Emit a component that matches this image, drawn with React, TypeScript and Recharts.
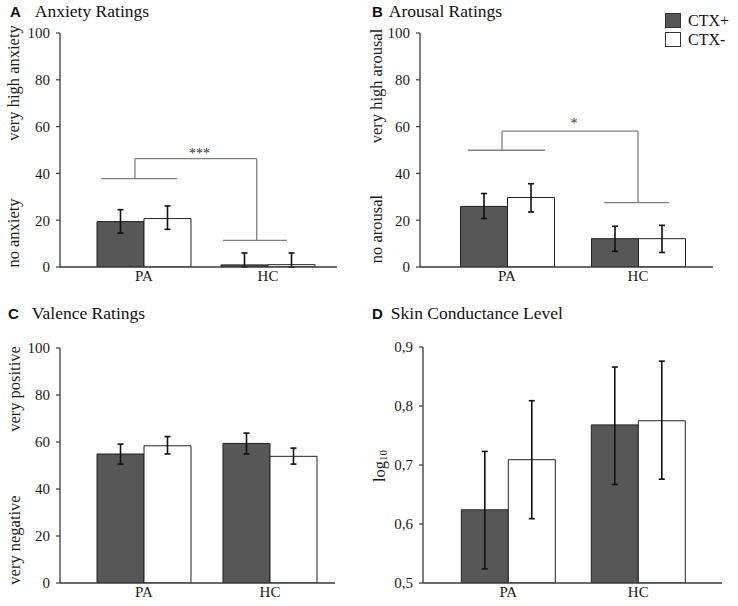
import React from 'react'
import { BarChart, Bar, XAxis, YAxis, ErrorBar, ReferenceLine, ReferenceDot, Legend } from 'recharts'

// groups on a numeric x axis so the brackets can live in data units
const groups = ['PA', 'HC']
const groupX = [1, 2]

// A: anxiety ratings
const anxPlus = [19.4, 0.9]
const anxPlusLo = [14.5, 0]
const anxPlusHi = [24.5, 6.0]
const anxMinus = [20.7, 1.0]
const anxMinusLo = [16.1, 0]
const anxMinusHi = [26.1, 6.0]

// B: arousal ratings
const aroPlus = [25.9, 12.1]
const aroPlusLo = [20.7, 6.7]
const aroPlusHi = [31.4, 17.4]
const aroMinus = [29.7, 12.1]
const aroMinusLo = [23.5, 6.2]
const aroMinusHi = [35.6, 17.8]

// C: valence ratings
const valPlus = [54.9, 59.4]
const valPlusLo = [50.6, 54.9]
const valPlusHi = [59.1, 63.8]
const valMinus = [58.4, 53.9]
const valMinusLo = [54.9, 50.6]
const valMinusHi = [62.3, 57.4]

// D: skin conductance level (log10)
const sclPlus = [0.624, 0.768]
const sclPlusLo = [0.524, 0.667]
const sclPlusHi = [0.723, 0.866]
const sclMinus = [0.709, 0.775]
const sclMinusLo = [0.609, 0.676]
const sclMinusHi = [0.809, 0.876]

const ratingTicks = [0, 20, 40, 60, 80, 100]
const sclTicks = [0.5, 0.6, 0.7, 0.8, 0.9]

// significance brackets: [left bar y, top y, right bar y], x spans in group units
const anxBracketY = [37.8, 46.3, 11.4]
const anxBracketX = { left: [0.653, 1.266], dropL: 0.927, dropR: 1.909, right: [1.637, 2.153] }
const aroBracketY = [49.9, 58.1, 27.5]
const aroBracketX = { left: [0.702, 1.29], dropL: 0.962, dropR: 2.0, right: [1.74, 2.237] }

const SERIF = '"Liberation Serif", "Times New Roman", serif'
const SANS = '"Liberation Sans", Arial, sans-serif'
const DARK = '#575757'
const EDGE = '#222'
const AXIS = '#3a3a3a'
const BRACKET = '#808080'

function rows(plus, plusLo, plusHi, minus, minusLo, minusHi) {
  return groups.map((g, i) => ({
    name: g,
    x: groupX[i],
    plus: plus[i],
    minus: minus[i],
    errPlus: [plus[i] - plusLo[i], plusHi[i] - plus[i]],
    errMinus: [minus[i] - minusLo[i], minusHi[i] - minus[i]],
  }))
}

function LegendBox({ payload }) {
  return (
    <div style={{ fontFamily: SERIF, fontSize: 16, color: '#111' }}>
      {(payload || []).map((p) => (
        <div key={p.value} style={{ display: 'flex', alignItems: 'center', height: 19 }}>
          <span
            style={{
              display: 'inline-block',
              width: 14,
              height: 13,
              background: p.payload.fill,
              border: '1px solid #333',
              marginRight: 7,
            }}
          />
          {p.value}
        </div>
      ))}
    </div>
  )
}

const markShape = (text) => (props) => (
  <text x={props.cx} y={props.cy} textAnchor="middle" dominantBaseline="central" fontFamily={SERIF} fontSize={14} fill="#333">
    {text}
  </text>
)

function Bracket({ ys, xs, mark, markY }) {
  const [yl, yt, yr] = ys
  const st = { stroke: BRACKET, strokeWidth: 1.3 }
  return [
    <ReferenceLine key="l" segment={[{ x: xs.left[0], y: yl }, { x: xs.left[1], y: yl }]} {...st} />,
    <ReferenceLine key="dl" segment={[{ x: xs.dropL, y: yl }, { x: xs.dropL, y: yt }]} {...st} />,
    <ReferenceLine key="t" segment={[{ x: xs.dropL, y: yt }, { x: xs.dropR, y: yt }]} {...st} />,
    <ReferenceLine key="dr" segment={[{ x: xs.dropR, y: yt }, { x: xs.dropR, y: yr }]} {...st} />,
    <ReferenceLine key="r" segment={[{ x: xs.right[0], y: yr }, { x: xs.right[1], y: yr }]} {...st} />,
    <ReferenceDot key="m" x={(xs.dropL + xs.dropR) / 2 + 0.03} y={markY} r={1} shape={markShape(mark)} />,
  ]
}

function Panel({ data, width, height, margin, yWidth, xHeight, xDomain, yDomain, yTicks, yFmt, bracket, legend }) {
  const tick = { fontSize: 15, fill: '#1a1a1a', fontFamily: SERIF, style: { fontFamily: SERIF } }
  return (
    <BarChart width={width} height={height} data={data} margin={margin} barGap={0} style={{ fontFamily: SERIF }}>
      <XAxis
        type="number"
        dataKey="x"
        domain={xDomain}
        allowDataOverflow
        ticks={groupX}
        interval={0}
        tickFormatter={(v) => groups[v - 1]}
        tickLine={false}
        tickSize={0}
        tickMargin={3}
        height={xHeight}
        axisLine={{ stroke: AXIS, strokeWidth: 1.3 }}
        tick={tick}
      />
      <YAxis
        width={yWidth}
        domain={yDomain}
        ticks={yTicks}
        interval={0}
        allowDataOverflow
        tickFormatter={yFmt}
        tickSize={4}
        tickMargin={6}
        axisLine={{ stroke: AXIS, strokeWidth: 1.3 }}
        tickLine={{ stroke: AXIS, strokeWidth: 1.2 }}
        tick={tick}
      />
      {legend && (
        <Legend
          layout="vertical"
          align="center"
          verticalAlign="middle"
          content={<LegendBox />}
          wrapperStyle={{ left: 296, top: 11, width: 'auto' }}
        />
      )}
      <Bar dataKey="plus" name="CTX+" fill={DARK} stroke={EDGE} strokeWidth={1} barSize={47} isAnimationActive={false}>
        <ErrorBar dataKey="errPlus" direction="y" width={3} stroke="#111" strokeWidth={1.6} />
      </Bar>
      <Bar dataKey="minus" name="CTX-" fill="#ffffff" stroke={EDGE} strokeWidth={1} barSize={47} isAnimationActive={false}>
        <ErrorBar dataKey="errMinus" direction="y" width={3} stroke="#111" strokeWidth={1.6} />
      </Bar>
      {bracket}
    </BarChart>
  )
}

function Title({ x, y, letter, text, gap }) {
  return (
    <div style={{ position: 'absolute', left: x, top: y, display: 'flex', alignItems: 'baseline', whiteSpace: 'nowrap' }}>
      <span style={{ fontFamily: SANS, fontWeight: 700, fontSize: 15, color: '#111' }}>{letter}</span>
      <span style={{ fontFamily: SERIF, fontSize: 17.5, color: '#111', marginLeft: gap }}>{text}</span>
    </div>
  )
}

function SideLabel({ x, y, children }) {
  return (
    <text
      transform={`translate(${x},${y}) rotate(-90)`}
      textAnchor="middle"
      dominantBaseline="central"
      fontFamily={SERIF}
      fontSize={16.5}
      fill="#1a1a1a"
    >
      {children}
    </text>
  )
}

export default function App() {
  const anxData = rows(anxPlus, anxPlusLo, anxPlusHi, anxMinus, anxMinusLo, anxMinusHi)
  const aroData = rows(aroPlus, aroPlusLo, aroPlusHi, aroMinus, aroMinusLo, aroMinusHi)
  const valData = rows(valPlus, valPlusLo, valPlusHi, valMinus, valMinusLo, valMinusHi)
  const sclData = rows(sclPlus, sclPlusLo, sclPlusHi, sclMinus, sclMinusLo, sclMinusHi)

  return (
    <div style={{ position: 'absolute', left: 0, top: 0, width: 738, height: 606, background: '#fff', overflow: 'hidden', fontFamily: SERIF }}>
      <style>{`svg text, .recharts-text, .recharts-cartesian-axis-tick-value { font-family: "Liberation Serif", "Times New Roman", serif !important; }`}</style>
      <div style={{ position: 'absolute', left: 0, top: 0 }}>
        <Panel
          data={anxData}
          width={369}
          height={300}
          margin={{ top: 33, right: 32, bottom: 0, left: 0 }}
          yWidth={60}
          xHeight={33}
          xDomain={[0.3226, 2.5565]}
          yDomain={[0, 100]}
          yTicks={ratingTicks}
          bracket={Bracket({ ys: anxBracketY, xs: anxBracketX, mark: '***', markY: 48.5 })}
        />
      </div>
      <div style={{ position: 'absolute', left: 369, top: 0 }}>
        <Panel
          data={aroData}
          width={369}
          height={300}
          margin={{ top: 33, right: 25, bottom: 0, left: 0 }}
          yWidth={51}
          xHeight={33}
          xDomain={[0.3359, 2.5725]}
          yDomain={[0, 100]}
          yTicks={ratingTicks}
          legend
          bracket={Bracket({ ys: aroBracketY, xs: aroBracketX, mark: '*', markY: 61.2 })}
        />
      </div>
      <div style={{ position: 'absolute', left: 0, top: 300 }}>
        <Panel
          data={valData}
          width={369}
          height={306}
          margin={{ top: 48, right: 34, bottom: 0, left: 0 }}
          yWidth={60}
          xHeight={23}
          xDomain={[0.3333, 2.516]}
          yDomain={[0, 100]}
          yTicks={ratingTicks}
        />
      </div>
      <div style={{ position: 'absolute', left: 369, top: 300 }}>
        <Panel
          data={sclData}
          width={369}
          height={306}
          margin={{ top: 47, right: 16, bottom: 0, left: 0 }}
          yWidth={54}
          xHeight={23}
          xDomain={[0.3438, 2.644]}
          yDomain={[0.5, 0.9]}
          yTicks={sclTicks}
          yFmt={(v) => v.toFixed(1).replace('.', ',')}
        />
      </div>

      <Title x={10} y={1} letter="A" text="Anxiety Ratings" gap={14} />
      <Title x={372} y={1} letter="B" text="Arousal Ratings" gap={6} />
      <Title x={8} y={303} letter="C" text="Valence Ratings" gap={13} />
      <Title x={372} y={303} letter="D" text="Skin Conductance Level" gap={8} />

      <svg width={738} height={606} style={{ position: 'absolute', left: 0, top: 0, pointerEvents: 'none' }}>
        <SideLabel x={13} y={83}>very high anxiety</SideLabel>
        <SideLabel x={13} y={233}>no anxiety</SideLabel>
        <SideLabel x={376} y={86}>very high arousal</SideLabel>
        <SideLabel x={376} y={229}>no arousal</SideLabel>
        <SideLabel x={14} y={389}>very positive</SideLabel>
        <SideLabel x={14} y={540}>very negative</SideLabel>
        <SideLabel x={379} y={466}>
          log<tspan fontSize={11} dy={4}>10</tspan>
        </SideLabel>
      </svg>
    </div>
  )
}
